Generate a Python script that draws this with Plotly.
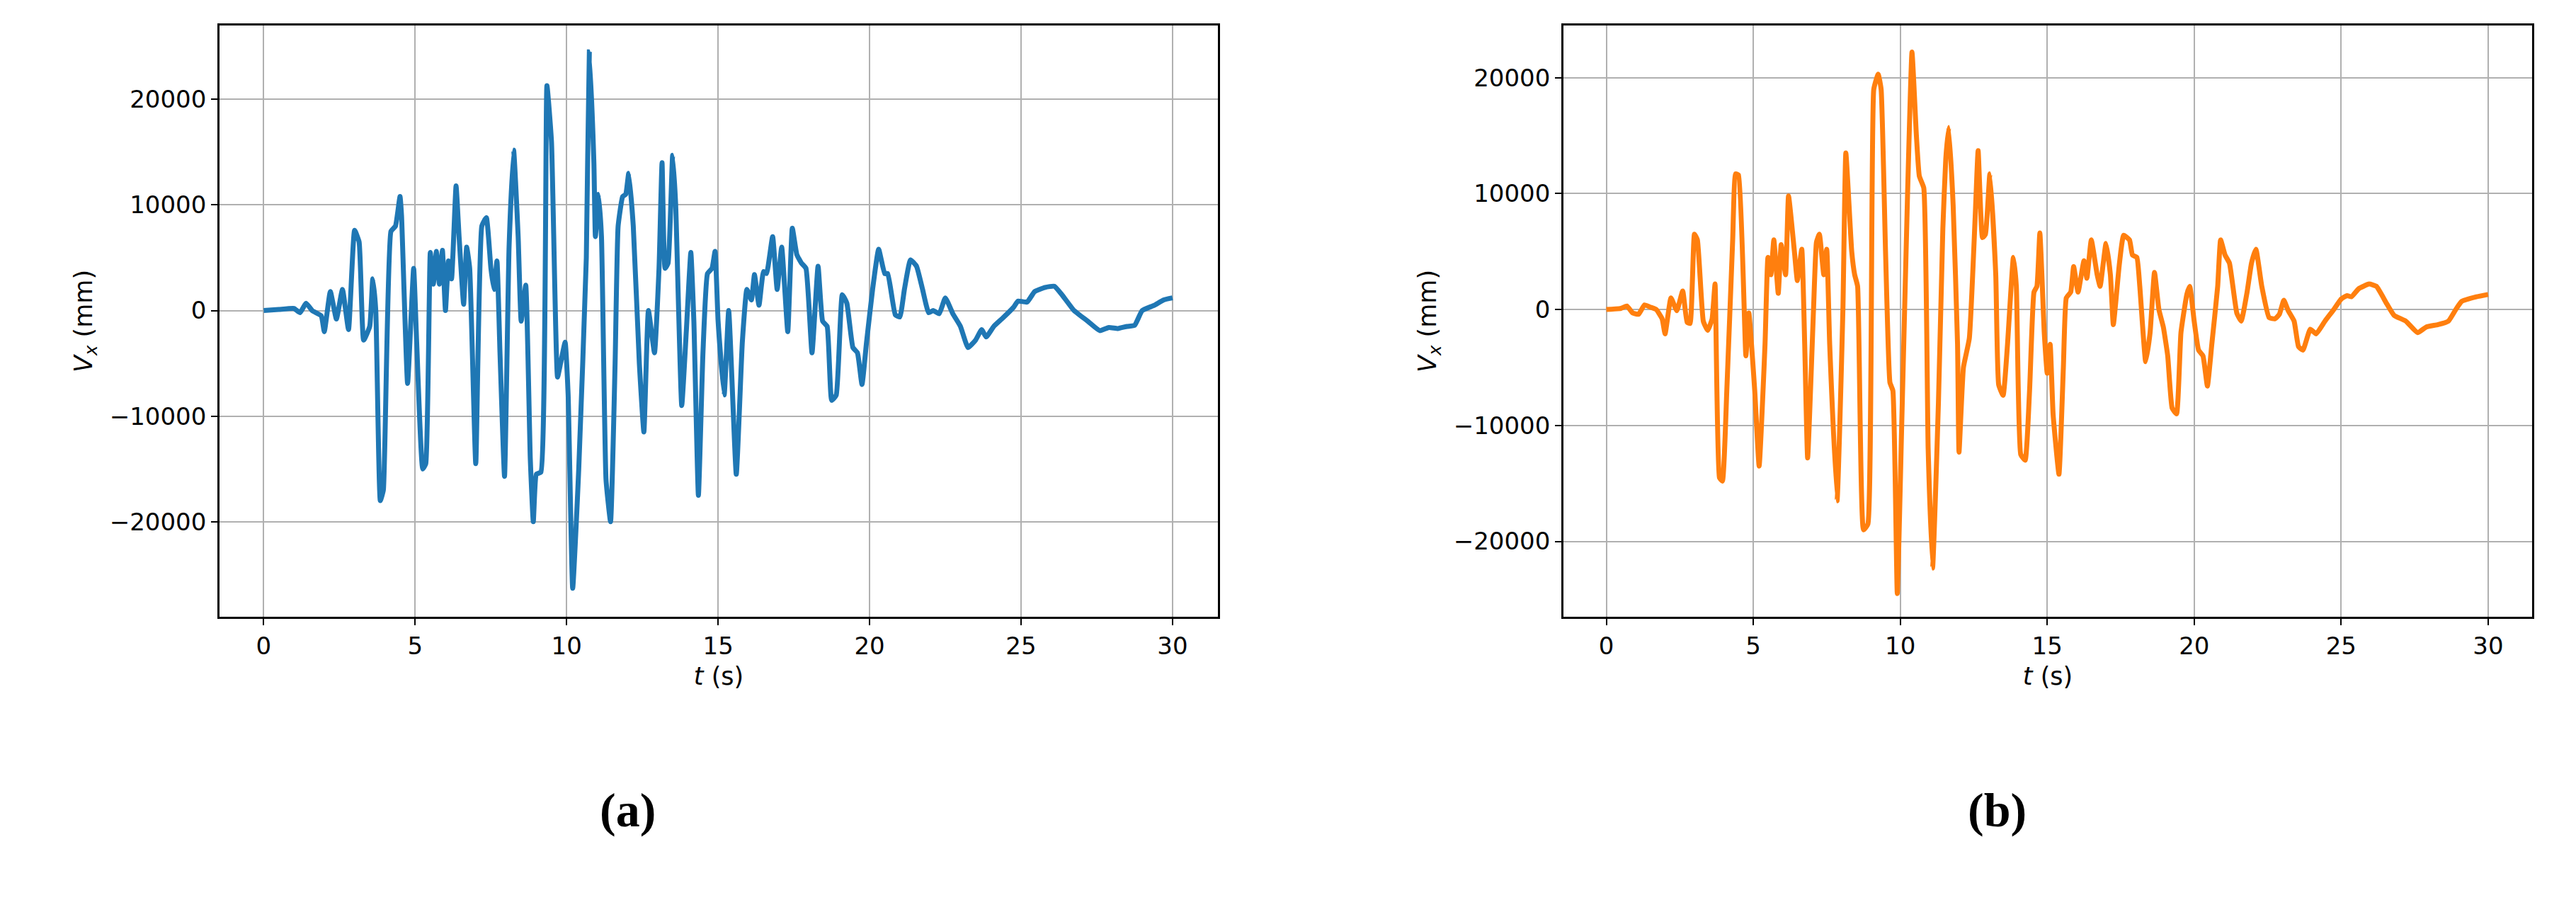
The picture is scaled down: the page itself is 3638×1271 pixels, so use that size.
import plotly.graph_objects as go
from plotly.subplots import make_subplots

# panel (a) - blue
t_a = [0, 0.5, 1, 1.2, 1.4, 1.6, 1.9, 2.0, 2.2, 2.4, 2.6, 2.8, 3.0, 3.15, 3.3, 3.5, 3.6, 3.7, 3.85, 3.95,
       4.2, 4.35, 4.5, 4.55, 4.75, 4.95, 5.05, 5.25, 5.35, 5.5, 5.6, 5.7, 5.8, 5.9, 6.0, 6.1, 6.2, 6.35, 6.45,
       6.6, 6.7, 6.8, 7.0, 7.2, 7.35, 7.5, 7.6, 7.7, 7.8, 7.95, 8.1, 8.25, 8.4, 8.5, 8.65, 8.8, 8.9, 9.0, 9.15,
       9.35, 9.5, 9.7, 9.8, 9.95, 10.05, 10.2, 10.4, 10.65, 10.75, 10.9, 10.95, 11.05, 11.15, 11.3, 11.45, 11.6,
       11.7, 11.85, 11.95, 12.05, 12.2, 12.4, 12.55, 12.7, 12.9, 13.05, 13.15, 13.25, 13.35, 13.5, 13.6, 13.8,
       13.95, 14.1, 14.2, 14.35, 14.5, 14.65, 14.8, 14.9, 15.0, 15.2, 15.35, 15.6, 15.8, 15.95, 16.1, 16.2,
       16.35, 16.5, 16.6, 16.8, 16.95, 17.1, 17.3, 17.45, 17.6, 17.75, 17.9, 18.1, 18.3, 18.45, 18.6, 18.75,
       18.9, 19.1, 19.25, 19.45, 19.6, 19.75, 19.9, 20.1, 20.3, 20.5, 20.6, 20.85, 21.0, 21.15, 21.35, 21.55,
       21.75, 21.95, 22.1, 22.3, 22.5, 22.75, 23.0, 23.25, 23.5, 23.7, 23.85, 24.1, 24.4, 24.75, 24.9, 25.2,
       25.45, 25.8, 26.1, 26.35, 26.75, 27.2, 27.6, 27.9, 28.2, 28.5, 28.75, 29.0, 29.4, 29.7, 30.0]
v_a = [0, 100, 200, -200, 700, 0, -500, -2000, 1800, -800, 2000, -1800, 7600, 6500, -2800, -1500, 3000, 0,
       -18000, -17000, 7500, 8000, 10800, 9000, -6900, 4000, -3000, -15000, -14500, 5500, 2500, 5600, 2500,
       5700, 0, 4700, 3000, 11800, 7000, 600, 6000, 4000, -14500, 8000, 8800, 4000, 2000, 4700, -4000, -15700,
       6000, 15200, 7000, -1000, 2400, -14000, -20000, -15500, -15300, 21300, 16000, -6300, -5000, -3000,
       -8000, -26300, -15000, 5000, 24500, 14000, 7000, 11000, 7000, -16000, -20000, -5000, 8000, 10800, 11000,
       13000, 8000, -5000, -11500, 0, -4000, 4000, 14000, 4000, 4500, 14700, 10000, -9000, -2000, 5500, -1000,
       -17500, -4000, 3500, 4000, 5600, -1000, -8000, 0, -15500, -3000, 2000, 1000, 3400, 500, 3700, 3500,
       7000, 2000, 6000, -2000, 7800, 5300, 4500, 4000, -4000, 4200, -1000, -1500, -8500, -8000, 1500, 700,
       -3500, -4000, -7000, -3000, 2000, 5800, 3500, 3500, -400, -600, 2000, 4800, 4200, 2000, -200, 0, -300,
       1200, -300, -1500, -3500, -2800, -1800, -2500, -1500, -700, 300, 900, 800, 1800, 2200, 2300, 1500, 0,
       -1000, -1900, -1600, -1700, -1500, -1400, 0, 500, 1000, 1200]

# panel (b) - orange
t_b = [0, 0.5, 0.7, 0.9, 1.1, 1.3, 1.5, 1.7, 1.9, 2.0, 2.2, 2.4, 2.6, 2.75, 2.85, 3.0, 3.1, 3.3, 3.45, 3.6,
       3.7, 3.85, 3.95, 4.1, 4.3, 4.4, 4.5, 4.75, 4.85, 5.05, 5.2, 5.4, 5.5, 5.6, 5.7, 5.85, 5.95, 6.1, 6.2,
       6.4, 6.5, 6.65, 6.75, 6.85, 7.05, 7.15, 7.25, 7.4, 7.5, 7.6, 7.85, 8.05, 8.15, 8.35, 8.45, 8.55, 8.75,
       8.9, 9.1, 9.25, 9.35, 9.5, 9.65, 9.75, 9.9, 10.05, 10.25, 10.4, 10.55, 10.65, 10.8, 10.95, 11.1, 11.3,
       11.45, 11.55, 11.65, 11.8, 11.95, 12.0, 12.15, 12.35, 12.55, 12.65, 12.8, 12.9, 13.05, 13.25, 13.35,
       13.5, 13.65, 13.85, 13.95, 14.1, 14.25, 14.4, 14.55, 14.65, 14.75, 14.9, 15.0, 15.1, 15.2, 15.4, 15.55,
       15.65, 15.8, 15.9, 16.05, 16.25, 16.35, 16.5, 16.7, 16.8, 17.0, 17.15, 17.25, 17.45, 17.6, 17.8, 17.9,
       18.05, 18.15, 18.35, 18.5, 18.65, 18.8, 18.95, 19.1, 19.25, 19.4, 19.55, 19.75, 19.85, 20.0, 20.15,
       20.3, 20.45, 20.6, 20.8, 20.9, 21.05, 21.2, 21.45, 21.6, 21.8, 21.95, 22.1, 22.3, 22.55, 22.75, 22.9,
       23.05, 23.2, 23.4, 23.55, 23.7, 23.95, 24.15, 24.45, 24.75, 25.0, 25.2, 25.35, 25.6, 25.95, 26.2, 26.55,
       26.8, 27.2, 27.6, 27.9, 28.3, 28.65, 28.9, 29.1, 29.6, 30.0]
v_b = [0, 100, 300, -300, -400, 400, 200, 0, -800, -2100, 1000, -100, 1600, -1100, -1200, 6500, 6000, -1000,
       -1800, -800, 2200, -14500, -14800, -7000, 6000, 11700, 11600, -4000, -300, -7000, -13500, -3000, 4500,
       3000, 6000, 1400, 5600, 3000, 9800, 5000, 2500, 5200, -3000, -12800, 0, 5800, 6500, 3000, 5200, -3000,
       -16500, 0, 13500, 5000, 3000, 2000, -19000, -18500, 19000, 20300, 19000, 5000, -6300, -7000, -24500,
       -10000, 10000, 22200, 15000, 11500, 10500, -12000, -22300, -8000, 7000, 13000, 15700, 9000, -3000,
       -12300, -5000, -2500, 8000, 13700, 6200, 6500, 11700, 3000, -6500, -7400, -3000, 4500, 2000, -12500,
       -13000, -7000, 1500, 2000, 6600, -2000, -5500, -3000, -9000, -14200, -5000, 1000, 1500, 3700, 1500, 4200,
       2700, 6000, 3000, 2000, 5700, 3000, -1300, 3800, 6400, 6000, 4700, 4500, 2000, -4500, -2000, 3200, 0,
       -1500, -4000, -8500, -9000, -2000, 1300, 2000, -1000, -3500, -4000, -6600, -3000, 2000, 6000, 4700,
       4000, -300, -1000, 1500, 4000, 5200, 2000, -700, -800, -400, 800, -100, -1000, -3200, -3500, -1700,
       -2100, -1000, 0, 900, 1200, 1100, 1800, 2200, 2000, 500, -500, -1000, -2000, -1500, -1300, -1000, 0,
       700, 1100, 1300]

x_ticks = [0, 5, 10, 15, 20, 25, 30]
y_ticks = [-20000, -10000, 0, 10000, 20000]
y_tick_text = ["\u221220000", "\u221210000", "0", "10000", "20000"]

fig = make_subplots(rows=1, cols=2)
fig.add_trace(go.Scatter(x=t_a, y=v_a, mode="lines", line=dict(color="#1f77b4", width=7, shape="spline", smoothing=0.4),
                         showlegend=False), row=1, col=1)
fig.add_trace(go.Scatter(x=t_b, y=v_b, mode="lines", line=dict(color="#ff7f0e", width=7, shape="spline", smoothing=0.4),
                         showlegend=False), row=1, col=2)

axis_style = dict(showline=True, linecolor="black", linewidth=2.5, mirror=True,
                  showgrid=True, gridcolor="#b0b0b0", gridwidth=2, zeroline=False,
                  ticks="outside", ticklen=9, tickwidth=2, tickcolor="black",
                  tickfont=dict(family="DejaVu Sans", size=34, color="black"))

title_font = dict(family="DejaVu Sans", size=35, color="black")

fig.update_xaxes(**axis_style, tickvals=x_ticks, range=[-1.46, 31.5],
                 title=dict(text="<i>t</i> (s)", font=title_font, standoff=12))
fig.update_xaxes(domain=[0.083, 0.4706], row=1, col=1)
fig.update_xaxes(domain=[0.6047, 0.9808], row=1, col=2)
fig.update_yaxes(**axis_style, tickvals=y_ticks, ticktext=y_tick_text, domain=[0.321, 0.978],
                 title=dict(text="<i>V<sub>x</sub></i> (mm)", font=title_font, standoff=14))
fig.update_yaxes(range=[-29000, 27000], row=1, col=1)
fig.update_yaxes(range=[-26500, 24500], row=1, col=2)

for label, xpos in [("(a)", 0.23), ("(b)", 0.785)]:
    fig.add_annotation(text="<b>" + label + "</b>", x=xpos, y=0.075, xref="paper", yref="paper",
                       showarrow=False, font=dict(family="Liberation Serif", size=68, color="black"))

fig.update_layout(width=3638, height=1271, margin=dict(l=0, r=0, t=0, b=0),
                  font=dict(color="black"),
                  plot_bgcolor="white", paper_bgcolor="white")

fig.write_html("out.html")
